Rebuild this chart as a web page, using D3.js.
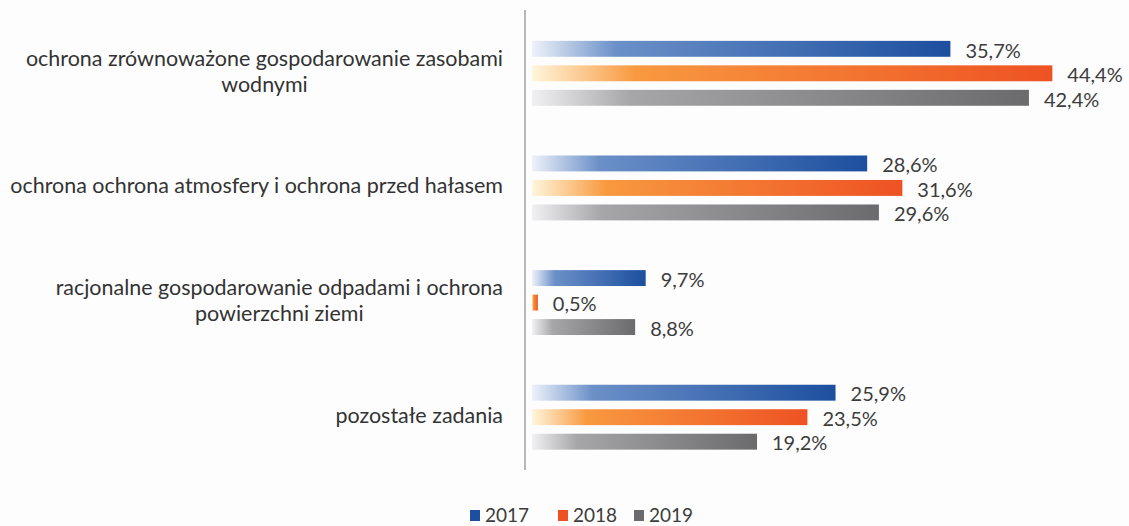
<!DOCTYPE html>
<html>
<head>
<meta charset="utf-8">
<script src="https://cdn.jsdelivr.net/npm/d3@7.9.0/dist/d3.min.js"></script>
<style>
  body { margin: 0; background: #fdfdfd; }
  svg { display: block; }
</style>
</head>
<body>
<svg id="chart" width="1129" height="526"></svg>
<script>
const categories = [
  ["ochrona zrównoważone gospodarowanie zasobami", "wodnymi"],
  ["ochrona ochrona atmosfery i ochrona przed hałasem"],
  ["racjonalne gospodarowanie odpadami i ochrona", "powierzchni ziemi"],
  ["pozostałe zadania"]
];
const years = ["2017", "2018", "2019"];
const values2017 = [35.7, 28.6, 9.7, 25.9];
const values2018 = [44.4, 31.6, 0.5, 23.5];
const values2019 = [42.4, 29.6, 8.8, 19.2];

const seriesValues = [values2017, values2018, values2019];
const colors = {
  "2017": ["#eef2f9", "#6b90c8", "#1d4f9f"],
  "2018": ["#fff6dc", "#f8993f", "#ee5223"],
  "2019": ["#f1f1f3", "#a6a6a8", "#6b6b6d"]
};

const svg = d3.select("#chart");
const font = "Lato, 'Open Sans', sans-serif";

const xScale = d3.scaleLinear().domain([0, 50]).range([532, 1118]);
const yGroup = d3.scaleBand().domain(d3.range(categories.length)).range([16, 474.5]).padding(0);
const yInner = d3.scaleBand().domain(years).range([0, yGroup.bandwidth()])
  .paddingInner(0.35).paddingOuter(1.015);

const defs = svg.append("defs");
years.forEach((y) => {
  const g = defs.append("linearGradient")
    .attr("id", "grad" + y)
    .attr("x1", "0%").attr("x2", "100%").attr("y1", "0%").attr("y2", "0%");
  g.append("stop").attr("offset", "0%").attr("stop-color", colors[y][0]);
  g.append("stop").attr("offset", "20%").attr("stop-color", colors[y][1]);
  g.append("stop").attr("offset", "100%").attr("stop-color", colors[y][2]);
});

// vertical axis line
svg.append("line")
  .attr("x1", 525).attr("x2", 525)
  .attr("y1", 10).attr("y2", 470)
  .attr("stroke", "#a0a0a0")
  .attr("stroke-width", 1.5);

const rows = [];
categories.forEach((c, i) => {
  years.forEach((y, j) => {
    rows.push({ group: i, year: y, value: seriesValues[j][i] });
  });
});

svg.append("g")
  .selectAll("rect")
  .data(rows)
  .join("rect")
  .attr("x", xScale(0))
  .attr("y", (d) => yGroup(d.group) + yInner(d.year))
  .attr("width", (d) => xScale(d.value) - xScale(0))
  .attr("height", yInner.bandwidth())
  .attr("fill", (d) => `url(#grad${d.year})`);

svg.append("g")
  .selectAll("text")
  .data(rows)
  .join("text")
  .attr("x", (d) => xScale(d.value) + 15)
  .attr("y", (d) => yGroup(d.group) + yInner(d.year) + yInner.bandwidth() / 2 + 1.5)
  .attr("dy", "0.36em")
  .style("font-family", font)
  .style("font-size", "20px")
  .attr("fill", "#3c3c3c")
  .text((d) => d.value.toFixed(1).replace(".", ",") + "%");

// category labels: lines centered, block right-aligned
const labelRight = 503;
const lineH = 26;
// size font so the longest label spans the same width as in the picture
const probe = svg.append("text").style("font-family", font).style("font-size", "18px")
  .text(categories[1][0]);
const catSize = 18 * 493 / probe.node().getComputedTextLength();
probe.remove();

categories.forEach((lines, i) => {
  const g = svg.append("g");
  const texts = lines.map((l) => g.append("text")
    .style("font-family", font)
    .style("font-size", catSize + "px")
    .attr("fill", "#333")
    .attr("text-anchor", "middle")
    .text(l));
  const maxW = d3.max(texts, (t) => t.node().getComputedTextLength());
  const cx = labelRight - maxW / 2;
  const cy = yGroup(i) + yGroup.bandwidth() / 2 - 2;
  texts.forEach((t, k) => {
    t.attr("x", cx)
      .attr("y", cy + (k - (lines.length - 1) / 2) * lineH)
      .attr("dy", "0.35em");
  });
});

// legend
const legendX = [470, 558, 634];
const legend = svg.append("g");
years.forEach((y, j) => {
  legend.append("rect")
    .attr("x", legendX[j])
    .attr("y", 510)
    .attr("width", 10)
    .attr("height", 11)
    .attr("fill", colors[y][2]);
  legend.append("text")
    .attr("x", legendX[j] + 15)
    .attr("y", 522)
    .style("font-family", font)
    .style("font-size", "19px")
    .attr("fill", "#3c3c3c")
    .text(y);
});
</script>
</body>
</html>
